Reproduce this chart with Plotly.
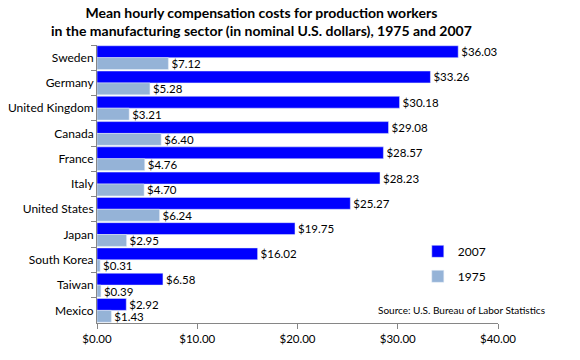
import plotly.graph_objects as go

countries = ["Sweden", "Germany", "United Kingdom", "Canada", "France", "Italy",
             "United States", "Japan", "South Korea", "Taiwan", "Mexico"]
v2007 = [36.03, 33.26, 30.18, 29.08, 28.57, 28.23, 25.27, 19.75, 16.02, 6.58, 2.92]
v1975 = [7.12, 5.28, 3.21, 6.40, 4.76, 4.70, 6.24, 2.95, 0.31, 0.39, 1.43]
xticks = [0, 10, 20, 30, 40]
xticklabels = ["$0.00", "$10.00", "$20.00", "$30.00", "$40.00"]

font_family = "Lato, 'Open Sans', sans-serif"

fig = go.Figure()
fig.add_trace(go.Bar(y=countries, x=v2007, orientation="h", name="2007",
                     marker_color="#0000FF", legendgroup="a",
                     text=[f"${v:.2f}" for v in v2007], textposition="outside",
                     constraintext="none",
                     cliponaxis=False, textfont=dict(size=11.5, color="#000000")))
fig.add_trace(go.Bar(y=countries, x=v1975, orientation="h", name="1975",
                     marker_color="#95B3D7", legendgroup="b",
                     text=[f"${v:.2f}" for v in v1975], textposition="outside",
                     constraintext="none",
                     cliponaxis=False, textfont=dict(size=11.5, color="#000000")))

fig.update_layout(
    width=580, height=360,
    margin=dict(l=97, r=82, t=45, b=37, autoexpand=False),
    paper_bgcolor="white", plot_bgcolor="white",
    barmode="group", bargap=0.06, bargroupgap=0,
    font=dict(family=font_family, size=12, color="#000000"),
    xaxis=dict(range=[0, 40], tickvals=xticks, ticktext=xticklabels,
               showgrid=False, zeroline=False, showline=True, linecolor="#868686",
               ticks="outside", ticklen=5, tickcolor="#868686",
               tickfont=dict(size=11.5), automargin=False),
    yaxis=dict(autorange="reversed", showgrid=False, showline=True,
               linecolor="#868686", ticks="outside", ticklen=5,
               tickcolor="#868686", tickson="boundaries",
               tickfont=dict(size=12), automargin=False),
    legend=dict(x=0.80, y=0.31, xanchor="left", yanchor="top",
                bgcolor="rgba(0,0,0,0)", font=dict(size=12),
                tracegroupgap=6, itemwidth=30, traceorder="grouped"),
    showlegend=True,
)
fig.add_annotation(text="<b>Mean hourly compensation costs for production workers<br>in the manufacturing sector (in nominal U.S. dollars), 1975 and 2007</b>",
                   xref="paper", yref="paper", x=0.409, y=1.155,
                   xanchor="center", yanchor="top", showarrow=False,
                   font=dict(size=14), align="center")
fig.add_annotation(text="Source: U.S. Bureau of Labor Statistics",
                   xref="paper", yref="paper", x=1.122, y=0.018,
                   xanchor="right", yanchor="bottom", showarrow=False,
                   font=dict(size=10))
fig.write_html("out.html", config={"displayModeBar": False},
               post_script="document.body.style.margin='0';")
